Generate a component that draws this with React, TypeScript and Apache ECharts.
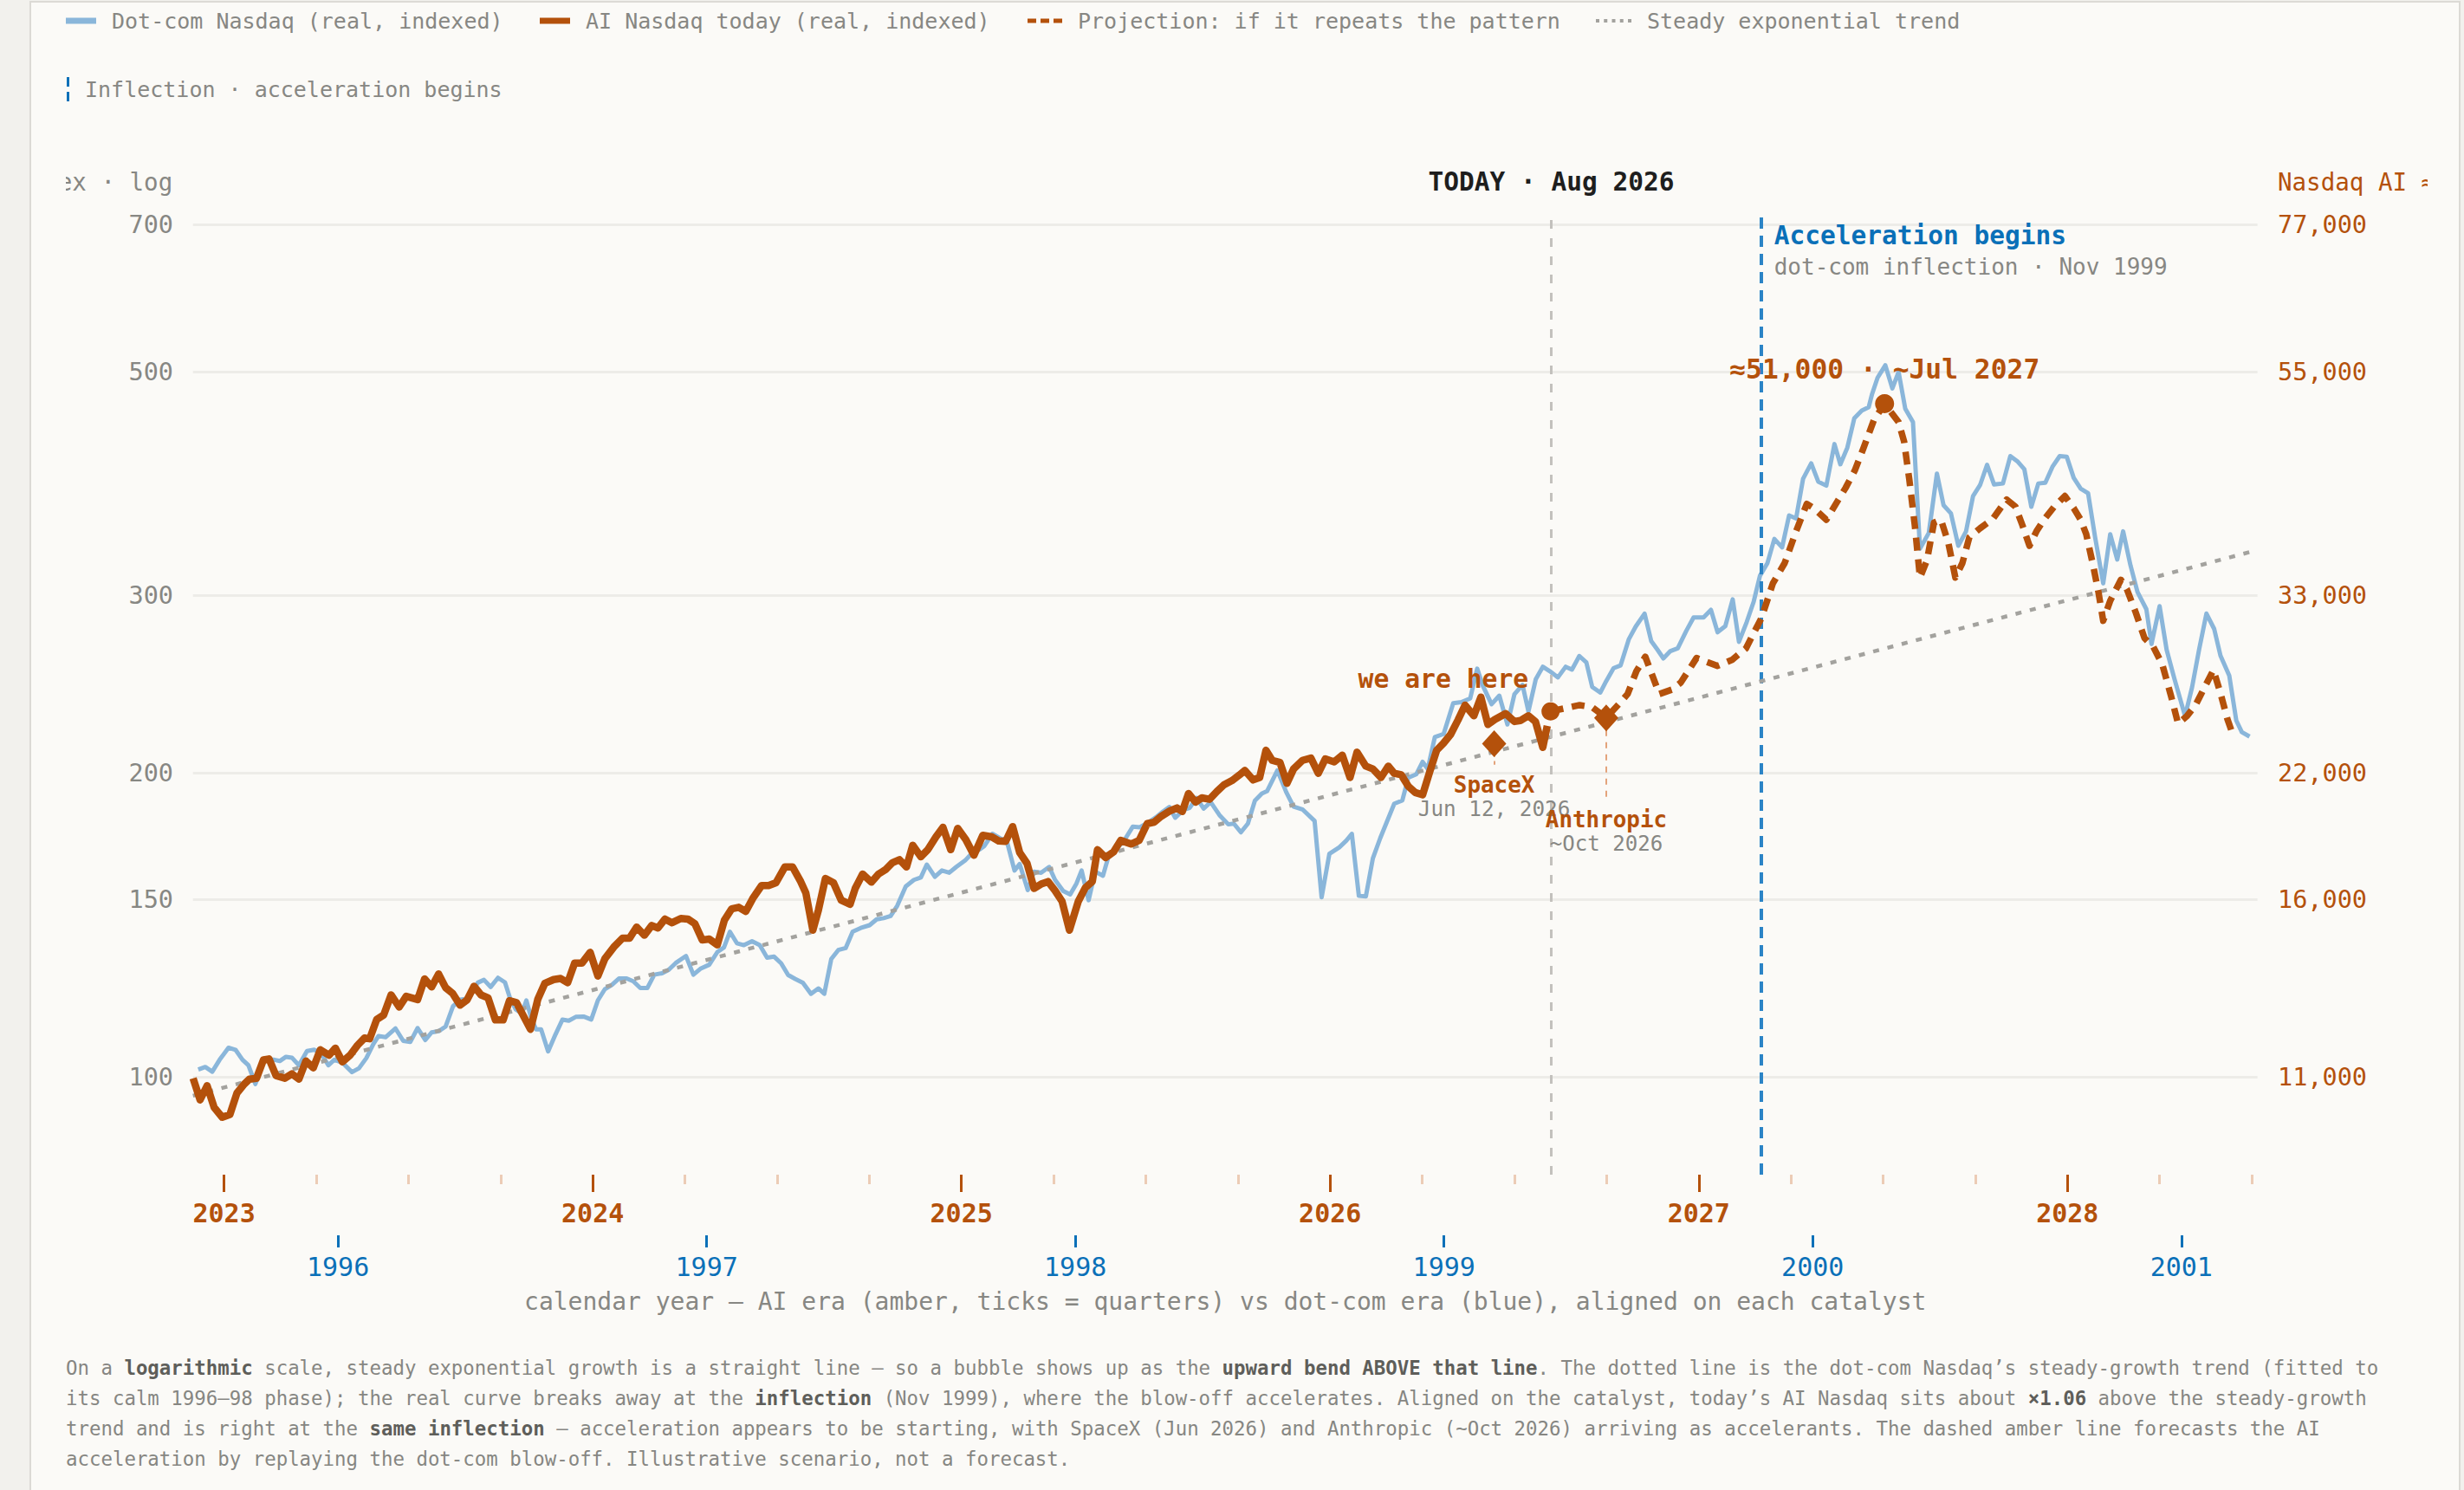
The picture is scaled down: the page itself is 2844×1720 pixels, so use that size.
import React, { useEffect, useRef } from "react";
import * as echarts from "echarts";

// ---------------- data ----------------
const aiCatalyst = 2022.9156; // ChatGPT launch, Nov 30 2022
const dotcomCatalyst = 1995.6066; // Netscape IPO, Aug 9 1995
const windowYears = 5.6;

const yTickValues = [100, 150, 200, 300, 500, 700];
const yRange = [80, 720];
const aiLevelPerIndex = 109.6; // Nasdaq AI level per indexed point

const aiYearTicks = [2023, 2024, 2025, 2026, 2027, 2028];
const aiQuarterTicks = [
  2023.25, 2023.5, 2023.75, 2024.25, 2024.5, 2024.75, 2025.25, 2025.5, 2025.75,
  2026.25, 2026.5, 2026.75, 2027.25, 2027.5, 2027.75, 2028.25, 2028.5,
];
const dotcomYearTicks = [1996, 1997, 1998, 1999, 2000, 2001];

// dot-com Nasdaq (real, indexed) — dot-com calendar
const dotcomNasdaq: number[][] = [
  [1995.621, 101.7], [1995.64, 102.3], [1995.659, 101.2], [1995.679, 104.0], [1995.703, 106.9],
  [1995.722, 106.4], [1995.741, 104.0], [1995.757, 102.7], [1995.776, 98.4], [1995.798, 104.0],
  [1995.827, 104.0], [1995.842, 103.7], [1995.859, 104.7], [1995.875, 104.5], [1995.894, 102.7],
  [1995.916, 106.1], [1995.936, 106.4], [1995.955, 105.4], [1995.974, 102.7], [1995.99, 104.0],
  [1996.012, 103.3], [1996.038, 101.1], [1996.057, 102.0], [1996.077, 104.4], [1996.096, 107.8],
  [1996.11, 109.8], [1996.129, 109.5], [1996.156, 111.7], [1996.177, 108.6], [1996.196, 108.3],
  [1996.216, 111.8], [1996.237, 108.8], [1996.254, 110.7], [1996.273, 111.0], [1996.292, 112.2],
  [1996.312, 117.5], [1996.331, 119.3], [1996.355, 119.6], [1996.379, 124.0], [1996.396, 124.8],
  [1996.414, 122.8], [1996.434, 125.4], [1996.453, 124.1], [1996.467, 119.6], [1996.482, 116.7],
  [1996.499, 115.6], [1996.511, 119.1], [1996.523, 114.8], [1996.537, 111.5], [1996.551, 111.5],
  [1996.57, 106.0], [1996.59, 110.2], [1996.609, 114.0], [1996.626, 113.7], [1996.645, 114.7],
  [1996.666, 114.8], [1996.687, 114.0], [1996.705, 119.1], [1996.724, 122.2], [1996.743, 123.4],
  [1996.762, 125.2], [1996.783, 125.2], [1996.801, 124.4], [1996.82, 122.5], [1996.839, 122.5],
  [1996.858, 126.3], [1996.879, 126.7], [1996.897, 127.7], [1996.916, 129.7], [1996.944, 131.8],
  [1996.964, 126.3], [1996.983, 128.0], [1997.007, 129.2], [1997.029, 133.0], [1997.047, 134.4],
  [1997.063, 139.3], [1997.082, 135.7], [1997.101, 135.1], [1997.123, 136.3], [1997.144, 135.1],
  [1997.164, 131.3], [1997.183, 131.6], [1997.202, 129.6], [1997.221, 126.2], [1997.24, 125.1],
  [1997.261, 124.0], [1997.283, 120.9], [1997.303, 122.4], [1997.319, 120.9], [1997.338, 130.9],
  [1997.357, 133.6], [1997.377, 134.2], [1997.396, 139.3], [1997.418, 140.5], [1997.442, 141.4],
  [1997.461, 143.3], [1997.48, 143.7], [1997.499, 144.4], [1997.517, 147.8], [1997.54, 154.5],
  [1997.562, 156.8], [1997.581, 157.7], [1997.597, 162.4], [1997.619, 157.9], [1997.638, 160.2],
  [1997.658, 159.4], [1997.677, 161.5], [1997.701, 163.9], [1997.72, 166.7], [1997.739, 168.0],
  [1997.753, 169.4], [1997.775, 174.2], [1997.795, 172.5], [1997.814, 171.4], [1997.835, 160.2],
  [1997.849, 162.6], [1997.871, 153.2], [1997.888, 159.8], [1997.907, 159.4], [1997.929, 161.5],
  [1997.945, 156.8], [1997.967, 152.9], [1997.986, 151.7], [1998.003, 155.5], [1998.017, 160.2],
  [1998.036, 149.7], [1998.054, 159.8], [1998.075, 158.3], [1998.089, 165.0], [1998.113, 168.5],
  [1998.134, 171.9], [1998.156, 177.1], [1998.175, 176.8], [1998.199, 178.9], [1998.219, 180.9],
  [1998.238, 183.3], [1998.255, 185.2], [1998.271, 180.7], [1998.293, 184.0], [1998.31, 184.8],
  [1998.329, 189.1], [1998.348, 184.5], [1998.367, 187.3], [1998.391, 181.8], [1998.415, 178.0],
  [1998.43, 178.3], [1998.449, 174.8], [1998.468, 178.3], [1998.487, 187.9], [1998.506, 191.0],
  [1998.52, 192.0], [1998.548, 201.3], [1998.572, 191.6], [1998.592, 185.4], [1998.616, 184.2],
  [1998.649, 179.4], [1998.668, 150.7], [1998.689, 166.4], [1998.716, 168.9], [1998.735, 171.5],
  [1998.75, 174.2], [1998.769, 151.2], [1998.788, 151.0], [1998.807, 164.7], [1998.827, 172.5],
  [1998.865, 186.6], [1998.887, 188.0], [1998.903, 198.0], [1998.925, 199.6], [1998.942, 205.3],
  [1998.956, 202.0], [1998.975, 217.2], [1998.999, 218.8], [1999.025, 234.7], [1999.047, 235.3],
  [1999.071, 237.3], [1999.09, 254.0], [1999.105, 244.4], [1999.129, 234.2], [1999.15, 238.8],
  [1999.172, 223.6], [1999.191, 239.6], [1999.213, 244.7], [1999.229, 230.4], [1999.249, 248.0],
  [1999.268, 255.1], [1999.287, 252.5], [1999.309, 249.0], [1999.33, 255.1], [1999.347, 253.4],
  [1999.367, 261.4], [1999.386, 257.7], [1999.402, 243.6], [1999.424, 240.5], [1999.44, 246.9],
  [1999.46, 254.3], [1999.479, 255.9], [1999.501, 271.5], [1999.52, 279.6], [1999.544, 288.0],
  [1999.562, 270.5], [1999.579, 265.2], [1999.595, 260.0], [1999.614, 264.4], [1999.634, 266.1],
  [1999.657, 276.8], [1999.677, 285.5], [1999.704, 285.5], [1999.724, 290.5], [1999.742, 276.0],
  [1999.763, 279.9], [1999.783, 297.5], [1999.8, 270.0], [1999.821, 282.5], [1999.84, 296.0],
  [1999.857, 314.0], [1999.877, 323.0], [1999.896, 341.5], [1999.917, 335.0], [1999.936, 360.3],
  [1999.955, 357.9], [1999.974, 391.9], [1999.996, 405.8], [2000.015, 389.3], [2000.037, 385.7],
  [2000.059, 424.1], [2000.075, 405.0], [2000.094, 420.7], [2000.113, 450.0], [2000.133, 457.8],
  [2000.152, 461.5], [2000.161, 475.3], [2000.176, 493.5], [2000.197, 507.7], [2000.216, 481.6],
  [2000.233, 500.0], [2000.251, 459.9], [2000.272, 445.9], [2000.291, 334.0], [2000.315, 346.3],
  [2000.337, 396.5], [2000.355, 368.8], [2000.375, 362.0], [2000.395, 336.2], [2000.416, 347.5],
  [2000.435, 376.7], [2000.454, 386.2], [2000.473, 404.5], [2000.492, 386.7], [2000.516, 387.6],
  [2000.536, 412.6], [2000.555, 407.8], [2000.574, 400.5], [2000.593, 367.6], [2000.612, 387.6],
  [2000.631, 388.3], [2000.651, 403.1], [2000.67, 412.6], [2000.689, 412.1], [2000.708, 392.6],
  [2000.727, 383.1], [2000.747, 379.1], [2000.766, 342.9], [2000.788, 308.6], [2000.807, 345.2],
  [2000.826, 325.8], [2000.842, 347.5], [2000.862, 321.5], [2000.881, 302.6], [2000.905, 290.9],
  [2000.919, 268.7], [2000.941, 292.9], [2000.96, 265.2], [2000.981, 248.3], [2001.01, 227.9],
  [2001.029, 243.4], [2001.048, 265.2], [2001.068, 288.0], [2001.089, 278.1], [2001.106, 261.7],
  [2001.13, 249.9], [2001.149, 225.6], [2001.164, 219.7], [2001.185, 217.5],
];

// AI Nasdaq today (real, indexed) — AI calendar
const aiNasdaq: number[][] = [
  [2022.916, 99.7], [2022.935, 94.9], [2022.954, 98.0], [2022.973, 93.3], [2022.995, 91.2],
  [2023.016, 91.8], [2023.035, 96.4], [2023.055, 98.4], [2023.069, 99.5], [2023.088, 99.7],
  [2023.107, 104.0], [2023.122, 104.2], [2023.141, 100.3], [2023.165, 99.7], [2023.184, 100.7],
  [2023.203, 99.5], [2023.222, 103.7], [2023.242, 102.1], [2023.261, 106.4], [2023.285, 105.1],
  [2023.302, 106.8], [2023.321, 103.5], [2023.342, 105.1], [2023.362, 107.5], [2023.381, 109.3],
  [2023.395, 109.1], [2023.414, 114.0], [2023.433, 115.2], [2023.453, 120.6], [2023.475, 117.3],
  [2023.494, 120.2], [2023.525, 119.3], [2023.544, 125.1], [2023.563, 122.8], [2023.582, 126.5],
  [2023.601, 122.6], [2023.62, 121.0], [2023.64, 117.8], [2023.659, 119.2], [2023.678, 123.0],
  [2023.697, 120.6], [2023.716, 119.8], [2023.736, 113.9], [2023.757, 113.9], [2023.774, 119.0],
  [2023.793, 118.5], [2023.831, 111.5], [2023.851, 119.4], [2023.87, 123.8], [2023.894, 124.9],
  [2023.913, 125.2], [2023.932, 124.0], [2023.951, 129.7], [2023.971, 129.7], [2023.993, 132.9],
  [2024.014, 125.9], [2024.033, 131.0], [2024.057, 134.5], [2024.081, 137.3], [2024.1, 137.3],
  [2024.119, 140.8], [2024.14, 138.2], [2024.16, 141.3], [2024.177, 140.5], [2024.196, 143.4],
  [2024.215, 142.2], [2024.239, 143.6], [2024.258, 143.4], [2024.277, 141.9], [2024.297, 136.7],
  [2024.316, 137.0], [2024.338, 135.2], [2024.357, 143.0], [2024.377, 146.8], [2024.396, 147.3],
  [2024.415, 145.9], [2024.434, 150.3], [2024.458, 154.8], [2024.477, 154.8], [2024.497, 155.8],
  [2024.521, 161.5], [2024.542, 161.5], [2024.564, 156.2], [2024.578, 152.2], [2024.597, 139.8],
  [2024.612, 146.3], [2024.631, 157.3], [2024.653, 155.8], [2024.674, 149.7], [2024.698, 148.3],
  [2024.712, 153.8], [2024.732, 158.9], [2024.756, 156.0], [2024.775, 158.9], [2024.794, 160.5],
  [2024.813, 163.1], [2024.832, 164.2], [2024.851, 161.5], [2024.868, 169.7], [2024.89, 165.3],
  [2024.909, 168.0], [2024.931, 173.0], [2024.95, 176.8], [2024.971, 168.0], [2024.99, 176.4],
  [2025.012, 171.9], [2025.034, 165.9], [2025.058, 173.6], [2025.082, 173.0], [2025.101, 171.4],
  [2025.12, 171.2], [2025.139, 177.1], [2025.158, 166.9], [2025.178, 162.8], [2025.197, 153.8],
  [2025.216, 155.3], [2025.235, 156.2], [2025.254, 153.0], [2025.273, 149.3], [2025.293, 139.8],
  [2025.317, 149.3], [2025.336, 154.0], [2025.355, 156.2], [2025.369, 168.0], [2025.391, 165.0],
  [2025.413, 167.2], [2025.432, 171.6], [2025.46, 170.2], [2025.482, 171.6], [2025.504, 178.3],
  [2025.523, 178.9], [2025.542, 181.3], [2025.566, 183.6], [2025.585, 184.8], [2025.599, 183.3],
  [2025.616, 191.0], [2025.635, 187.3], [2025.652, 189.1], [2025.673, 188.5], [2025.693, 191.9],
  [2025.712, 194.8], [2025.734, 196.7], [2025.753, 199.1], [2025.769, 201.3], [2025.791, 197.0],
  [2025.809, 198.1], [2025.826, 210.8], [2025.843, 206.0], [2025.864, 205.0], [2025.883, 195.5],
  [2025.901, 202.0], [2025.925, 206.0], [2025.948, 207.1], [2025.968, 200.0], [2025.987, 206.7],
  [2026.011, 205.3], [2026.033, 208.5], [2026.054, 198.1], [2026.073, 209.9], [2026.097, 203.3],
  [2026.116, 202.0], [2026.138, 198.1], [2026.158, 203.3], [2026.174, 200.0], [2026.193, 199.3],
  [2026.212, 194.2], [2026.231, 191.4], [2026.251, 190.4], [2026.27, 200.6], [2026.289, 210.8],
  [2026.308, 214.3], [2026.327, 218.6], [2026.347, 225.9], [2026.366, 233.7], [2026.39, 228.1],
  [2026.409, 238.0], [2026.428, 223.6], [2026.447, 226.2], [2026.476, 229.2], [2026.5, 225.1],
  [2026.516, 225.6], [2026.538, 228.1], [2026.557, 225.1], [2026.577, 212.2], [2026.589, 222.9],
];

// Projection: if it repeats the pattern — AI calendar
const projection: number[][] = [
  [2026.598, 230.4], [2026.677, 233.7], [2026.711, 232.6], [2026.749, 227.1], [2026.783, 234.2],
  [2026.807, 239.7], [2026.831, 252.6], [2026.855, 261.0], [2026.893, 239.7], [2026.927, 242.1],
  [2026.951, 246.0], [2026.994, 260.2], [2027.051, 255.6], [2027.09, 259.1], [2027.128, 266.0],
  [2027.146, 274.1], [2027.17, 285.1], [2027.201, 308.6], [2027.233, 323.2], [2027.264, 347.5],
  [2027.293, 370.0], [2027.312, 366.4], [2027.346, 356.8], [2027.379, 373.7], [2027.398, 383.6],
  [2027.423, 399.1], [2027.446, 419.5], [2027.475, 448.0], [2027.504, 465.1], [2027.542, 445.9],
  [2027.557, 426.5], [2027.571, 391.3], [2027.586, 352.2], [2027.6, 312.7], [2027.619, 325.3],
  [2027.638, 354.5], [2027.657, 356.8], [2027.677, 338.4], [2027.696, 312.7], [2027.715, 323.2],
  [2027.734, 342.9], [2027.763, 349.9], [2027.797, 357.3], [2027.835, 373.7], [2027.859, 367.6],
  [2027.878, 352.2], [2027.897, 336.2], [2027.916, 347.5], [2027.936, 356.8], [2027.964, 367.6],
  [2027.993, 376.7], [2028.017, 366.4], [2028.036, 356.8], [2028.051, 345.2], [2028.07, 321.0],
  [2028.084, 302.6], [2028.097, 283.3], [2028.116, 296.6], [2028.145, 311.1], [2028.161, 304.6],
  [2028.185, 288.9], [2028.209, 272.3], [2028.233, 266.9], [2028.257, 256.6], [2028.281, 238.6],
  [2028.3, 224.1], [2028.324, 227.9], [2028.348, 233.9], [2028.372, 243.4], [2028.396, 253.2],
  [2028.415, 240.2], [2028.434, 226.3], [2028.449, 218.3],
];

// Steady exponential trend (straight on a log scale)
const steadyTrend: number[][] = [
  [2022.9156, 95.8],
  [2028.5156, 333.0],
];

const today = { date: 2026.598, value: 230.4 };
const inflectionDotcom = 1999.857;
const spacex = { date: 2026.445, value: 214, leaderEnd: 204 };
const anthropic = { date: 2026.749, value: 227, leaderEnd: 188.7 };
const peak = { date: 2027.504, value: 465.1 };

// ---------------- styles ----------------
const FONT = "'DejaVu Sans Mono', 'Liberation Mono', monospace";
const AMBER = "#b4510b";
const AMBER_LIGHT = "#ecccb6";
const BLUE_LINE = "#8ab6da";
const BLUE_TEXT = "#0a70b8";
const BLUE_MARK = "#2b84c6";
const GRAY_TEXT = "#878783";
const TREND_GRAY = "#a3a29e";

const L = (v: number) => Math.log10(v);
const toLog = (arr: number[][]) => arr.map(([d, v]) => [d, L(v)]);
const fmtThousands = (v: number) =>
  (Math.round((v * aiLevelPerIndex) / 1000) * 1000).toLocaleString("en-US");

function buildOption() {
  const xMin = aiCatalyst;
  const xMax = aiCatalyst + windowYears;
  const eraShift = aiCatalyst - dotcomCatalyst;
  const yLogTicks = yTickValues.map(L);

  const legendText = (x: number, y: number, text: string) => ({
    type: "text",
    x,
    y,
    silent: true,
    style: { text, fill: GRAY_TEXT, font: `25px ${FONT}`, verticalAlign: "middle", align: "left" },
  });

  const graphic: any[] = [
    { type: "rect", silent: true, shape: { x: 0, y: 20.5, width: 35, height: 7 }, style: { fill: BLUE_LINE } },
    legendText(53, 24, "Dot-com Nasdaq (real, indexed)"),
    { type: "rect", silent: true, shape: { x: 547, y: 20.5, width: 35, height: 7 }, style: { fill: AMBER } },
    legendText(600, 24, "AI Nasdaq today (real, indexed)"),
    ...[0, 1, 2].map((i) => ({
      type: "rect",
      silent: true,
      shape: { x: 1110 + i * 15, y: 21.5, width: 10, height: 5 },
      style: { fill: AMBER },
    })),
    legendText(1168, 24, "Projection: if it repeats the pattern"),
    ...[0, 1, 2, 3, 4].map((i) => ({
      type: "rect",
      silent: true,
      shape: { x: 1766 + i * 9.25, y: 22, width: 4, height: 4 },
      style: { fill: TREND_GRAY },
    })),
    legendText(1825, 24, "Steady exponential trend"),
    { type: "rect", silent: true, shape: { x: 1, y: 89, width: 3, height: 11 }, style: { fill: BLUE_TEXT } },
    { type: "rect", silent: true, shape: { x: 1, y: 106, width: 3, height: 11 }, style: { fill: BLUE_TEXT } },
    legendText(22, 103, "Inflection · acceleration begins"),
  ];

  return {
    animation: false,
    backgroundColor: "transparent",
    textStyle: { fontFamily: FONT },
    graphic,
    grid: { left: 146.7, right: 196.3, top: 245, bottom: 184, outerBoundsMode: "none" },
    xAxis: [
      {
        type: "value",
        min: xMin,
        max: xMax,
        position: "bottom",
        axisLine: { show: false },
        splitLine: { show: false },
        axisTick: { show: true, customValues: aiYearTicks, length: 20, lineStyle: { color: AMBER, width: 3 } },
        axisLabel: {
          customValues: aiYearTicks,
          formatter: (v: number) => String(Math.round(v)),
          color: AMBER,
          fontWeight: "bold",
          fontSize: 30,
          fontFamily: FONT,
          margin: 29,
        },
      },
      {
        type: "value",
        min: xMin - eraShift,
        max: xMax - eraShift,
        position: "bottom",
        offset: 70,
        axisLine: { show: false },
        splitLine: { show: false },
        axisTick: { show: true, customValues: dotcomYearTicks, length: 14, lineStyle: { color: BLUE_TEXT, width: 3 } },
        axisLabel: {
          customValues: dotcomYearTicks,
          formatter: (v: number) => String(Math.round(v)),
          color: BLUE_TEXT,
          fontSize: 30,
          fontFamily: FONT,
          margin: 21,
        },
        name: "calendar year — AI era (amber, ticks = quarters) vs dot-com era (blue), aligned on each catalyst",
        nameLocation: "middle",
        nameGap: 76,
        nameTextStyle: { color: GRAY_TEXT, fontSize: 28, fontFamily: FONT, verticalAlign: "middle" },
      },
      {
        type: "value",
        min: xMin,
        max: xMax,
        position: "bottom",
        axisLine: { show: false },
        splitLine: { show: false },
        axisTick: { show: true, customValues: aiQuarterTicks, length: 11, lineStyle: { color: AMBER_LIGHT, width: 3 } },
        axisLabel: { show: false, customValues: aiQuarterTicks },
      },
    ],
    yAxis: [
      {
        type: "value",
        min: L(yRange[0]),
        max: L(yRange[1]),
        position: "left",
        axisLine: { show: false },
        axisTick: { show: false, customValues: yLogTicks },
        splitLine: { show: true, lineStyle: { color: "#edece8", width: 3 } },
        axisLabel: {
          customValues: yLogTicks,
          formatter: (v: number) => String(Math.round(Math.pow(10, v))),
          color: GRAY_TEXT,
          fontSize: 28.5,
          fontFamily: FONT,
          margin: 22.7,
        },
        name: "Dot-com Nasdaq index · log",
        nameLocation: "end",
        nameGap: 35,
        nameTextStyle: {
          color: GRAY_TEXT,
          fontSize: 27.5,
          fontFamily: FONT,
          align: "right",
          verticalAlign: "middle",
          padding: [0, 23.5, 0, 0],
        },
      },
      {
        type: "value",
        min: L(yRange[0]),
        max: L(yRange[1]),
        position: "right",
        axisLine: { show: false },
        axisTick: { show: false, customValues: yLogTicks },
        splitLine: { show: false },
        axisLabel: {
          customValues: yLogTicks,
          formatter: (v: number) => fmtThousands(Math.pow(10, v)),
          color: AMBER,
          fontSize: 28.5,
          fontFamily: FONT,
          margin: 23.3,
        },
        name: "Nasdaq AI ≈ level",
        nameLocation: "end",
        nameGap: 35,
        nameTextStyle: {
          color: AMBER,
          fontSize: 27.5,
          fontFamily: FONT,
          align: "left",
          verticalAlign: "middle",
          padding: [0, 0, 0, 23.3],
        },
      },
    ],
    series: [
      {
        name: "Dot-com Nasdaq (real, indexed)",
        type: "line",
        xAxisIndex: 1,
        yAxisIndex: 0,
        data: toLog(dotcomNasdaq),
        symbol: "none",
        silent: true,
        z: 2,
        lineStyle: { color: BLUE_LINE, width: 5, join: "round" },
        markLine: {
          silent: true,
          symbol: ["none", "none"],
          z: 3,
          lineStyle: { color: BLUE_MARK, width: 4, type: [13, 8] },
          data: [
            {
              xAxis: inflectionDotcom,
              label: {
                show: true,
                position: "end",
                distance: -9,
                align: "left",
                verticalAlign: "top",
                padding: [0, 0, 0, 15],
                formatter: "{a|Acceleration begins}\n{b|dot-com inflection · Nov 1999}",
                rich: {
                  a: { color: BLUE_TEXT, fontWeight: "bold", fontSize: 29.5, lineHeight: 36, fontFamily: FONT },
                  b: { color: GRAY_TEXT, fontSize: 26, lineHeight: 36, fontFamily: FONT },
                },
              },
            },
          ],
        },
      },
      {
        name: "Steady exponential trend",
        type: "line",
        xAxisIndex: 0,
        yAxisIndex: 0,
        data: toLog(steadyTrend),
        symbol: "none",
        silent: true,
        z: 3,
        lineStyle: { color: TREND_GRAY, width: 4.5, type: [7, 10] },
      },
      {
        name: "Projection: if it repeats the pattern",
        type: "line",
        xAxisIndex: 0,
        yAxisIndex: 0,
        data: toLog(projection),
        symbol: "none",
        silent: true,
        z: 4,
        lineStyle: { color: AMBER, width: 7.5, type: [15, 10], join: "round" },
        markPoint: {
          silent: true,
          z: 10,
          data: [
            {
              coord: [peak.date, L(peak.value)],
              symbol: "circle",
              symbolSize: 22,
              itemStyle: { color: AMBER },
              label: {
                show: true,
                position: "top",
                distance: 13,
                formatter: `≈${fmtThousands(peak.value)} · ~Jul 2027`,
                color: AMBER,
                fontWeight: "bold",
                fontSize: 31.3,
                fontFamily: FONT,
              },
            },
          ],
        },
      },
      {
        name: "AI Nasdaq today (real, indexed)",
        type: "line",
        xAxisIndex: 0,
        yAxisIndex: 0,
        data: toLog(aiNasdaq),
        symbol: "none",
        silent: true,
        z: 5,
        lineStyle: { color: AMBER, width: 8.5, join: "round" },
        markLine: {
          silent: true,
          symbol: ["none", "none"],
          z: 4,
          data: [
            {
              xAxis: today.date,
              lineStyle: { color: "#c3c1bd", width: 3, type: [10, 11] },
              label: {
                show: true,
                position: "end",
                distance: 20,
                formatter: "TODAY · Aug 2026",
                color: "#1e1e1e",
                fontWeight: "bold",
                fontSize: 29.5,
                fontFamily: FONT,
              },
            },
            [
              { coord: [spacex.date, L(spacex.value)], lineStyle: { color: "#e3a37b", width: 2, type: [5, 5] }, label: { show: false } },
              { coord: [spacex.date, L(spacex.leaderEnd)] },
            ],
            [
              { coord: [anthropic.date, L(anthropic.value)], lineStyle: { color: "#e3a37b", width: 2, type: [7, 7] }, label: { show: false } },
              { coord: [anthropic.date, L(anthropic.leaderEnd)] },
            ],
          ],
        },
        markPoint: {
          silent: true,
          z: 10,
          data: [
            {
              coord: [today.date, L(today.value)],
              symbol: "circle",
              symbolSize: 21,
              itemStyle: { color: AMBER },
              label: {
                show: true,
                position: [-15, -27.5],
                align: "right",
                verticalAlign: "middle",
                formatter: "we are here",
                color: AMBER,
                fontWeight: "bold",
                fontSize: 29.7,
                fontFamily: FONT,
              },
            },
            {
              coord: [spacex.date, L(spacex.value)],
              symbol: "diamond",
              symbolSize: [28, 31],
              itemStyle: { color: AMBER },
              label: {
                show: true,
                position: "bottom",
                distance: 18,
                formatter: "{a|SpaceX}\n{b|Jun 12, 2026}",
                rich: {
                  a: { color: AMBER, fontWeight: "bold", fontSize: 25.9, lineHeight: 28, fontFamily: FONT },
                  b: { color: GRAY_TEXT, fontSize: 24.3, lineHeight: 28, fontFamily: FONT },
                },
              },
            },
            {
              coord: [anthropic.date, L(anthropic.value)],
              symbol: "diamond",
              symbolSize: [28, 31],
              itemStyle: { color: AMBER },
              label: {
                show: true,
                position: "bottom",
                distance: 88,
                formatter: "{a|Anthropic}\n{b|~Oct 2026}",
                rich: {
                  a: { color: AMBER, fontWeight: "bold", fontSize: 25.9, lineHeight: 28, fontFamily: FONT },
                  b: { color: GRAY_TEXT, fontSize: 24.1, lineHeight: 28, fontFamily: FONT },
                },
              },
            },
          ],
        },
      },
    ],
  };
}

export default function App() {
  const ref = useRef<HTMLDivElement>(null);
  useEffect(() => {
    if (!ref.current) return;
    const chart = echarts.init(ref.current, null, { renderer: "svg" });
    chart.setOption(buildOption() as any);
    return () => chart.dispose();
  }, []);

  const bold = { color: "#5e5e5a", fontWeight: 700 } as React.CSSProperties;

  return (
    <div
      style={{
        position: "fixed",
        left: 0,
        top: 0,
        width: 2844,
        height: 1720,
        overflow: "hidden",
        background: "#f2f1ed",
        fontFamily: FONT,
      }}
    >
      <div
        style={{
          position: "absolute",
          left: 34,
          top: 1,
          width: 2806,
          height: 1800,
          boxSizing: "border-box",
          background: "#fbfaf7",
          border: "2px solid #dcdad5",
        }}
      />
      <div ref={ref} style={{ position: "absolute", left: 76, top: 0, width: 2726, height: 1540 }} />
      <div
        style={{
          position: "absolute",
          left: 76,
          top: 1562,
          fontSize: 22.4,
          lineHeight: "35px",
          color: "#868682",
          whiteSpace: "nowrap",
        }}
      >
        On a <span style={bold}>logarithmic</span> scale, steady exponential growth is a straight line — so a bubble
        shows up as the <span style={bold}>upward bend ABOVE that line</span>. The dotted line is the dot-com
        Nasdaq’s steady-growth trend (fitted to
        <br />
        its calm 1996–98 phase); the real curve breaks away at the <span style={bold}>inflection</span> (Nov 1999),
        where the blow-off accelerates. Aligned on the catalyst, today’s AI Nasdaq sits about{" "}
        <span style={bold}>×1.06</span> above the steady-growth
        <br />
        trend and is right at the <span style={bold}>same inflection</span> — acceleration appears to be starting, with
        SpaceX (Jun 2026) and Anthropic (~Oct 2026) arriving as accelerants. The dashed amber line forecasts the AI
        <br />
        acceleration by replaying the dot-com blow-off. Illustrative scenario, not a forecast.
      </div>
    </div>
  );
}
